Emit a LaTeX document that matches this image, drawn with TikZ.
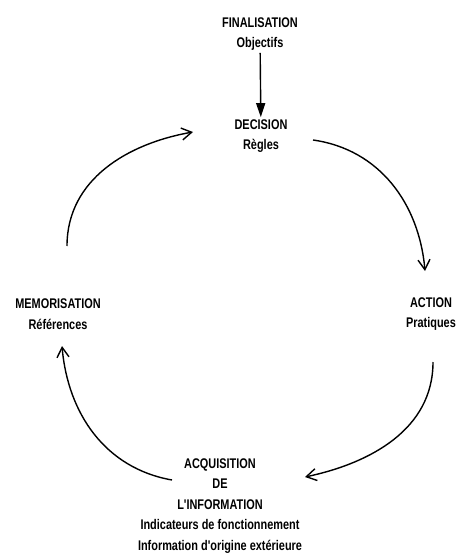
\documentclass[tikz,border=0pt]{standalone}
\usepackage{fontspec}
\newfontfamily\stagefont{Liberation Sans}[FakeStretch=0.78]
\usetikzlibrary{arrows.meta}

\tikzset{
  stage/.style={align=center, inner sep=2pt,
    font=\stagefont\bfseries\fontsize{14}{20.5}\selectfont},
  cycarrow/.style={line width=1.4pt,
    -{Straight Barb[length=10pt,width=12pt,line width=1.4pt]}},
  goalarrow/.style={line width=1.4pt, -{Triangle[length=14pt,width=9pt]}},
}

\begin{document}
\begin{tikzpicture}[x=1pt, y=1pt]

  \useasboundingbox (0,0) rectangle (455,-554);

  % Define nodes
  \node[stage] (fin) at (260,-34)  {FINALISATION\\Objectifs};
  \node[stage] (dec) at (261,-136) {DECISION\\Règles};
  \node[stage] (act) at (431,-314) {ACTION\\Pratiques};
  \node[stage] (mem) at (58,-314)  {MEMORISATION\\Références};
  \node[stage] (acq) at (220,-506) {ACQUISITION\\DE\\L'INFORMATION\\
    Indicateurs de fonctionnement\\Information d'origine extérieure};

  % Connect the nodes
  \draw[goalarrow] (fin) -- (dec);
  \draw[cycarrow] ([shift={(52,-4)}]dec.center)
    to[out=-8, in=95] ([shift={(-6,43)}]act.center);
  \draw[cycarrow] ([shift={(2,-48)}]act.center)
    to[out=-90, in=12] ([shift={(85,29)}]acq.center);
  \draw[cycarrow] ([shift={(-48,26)}]acq.center)
    to[out=170, in=-85] ([shift={(4,-32)}]mem.center);
  \draw[cycarrow] ([shift={(9,68)}]mem.center)
    to[out=90, in=190] ([shift={(-68,4)}]dec.center);

\end{tikzpicture}
\end{document}
